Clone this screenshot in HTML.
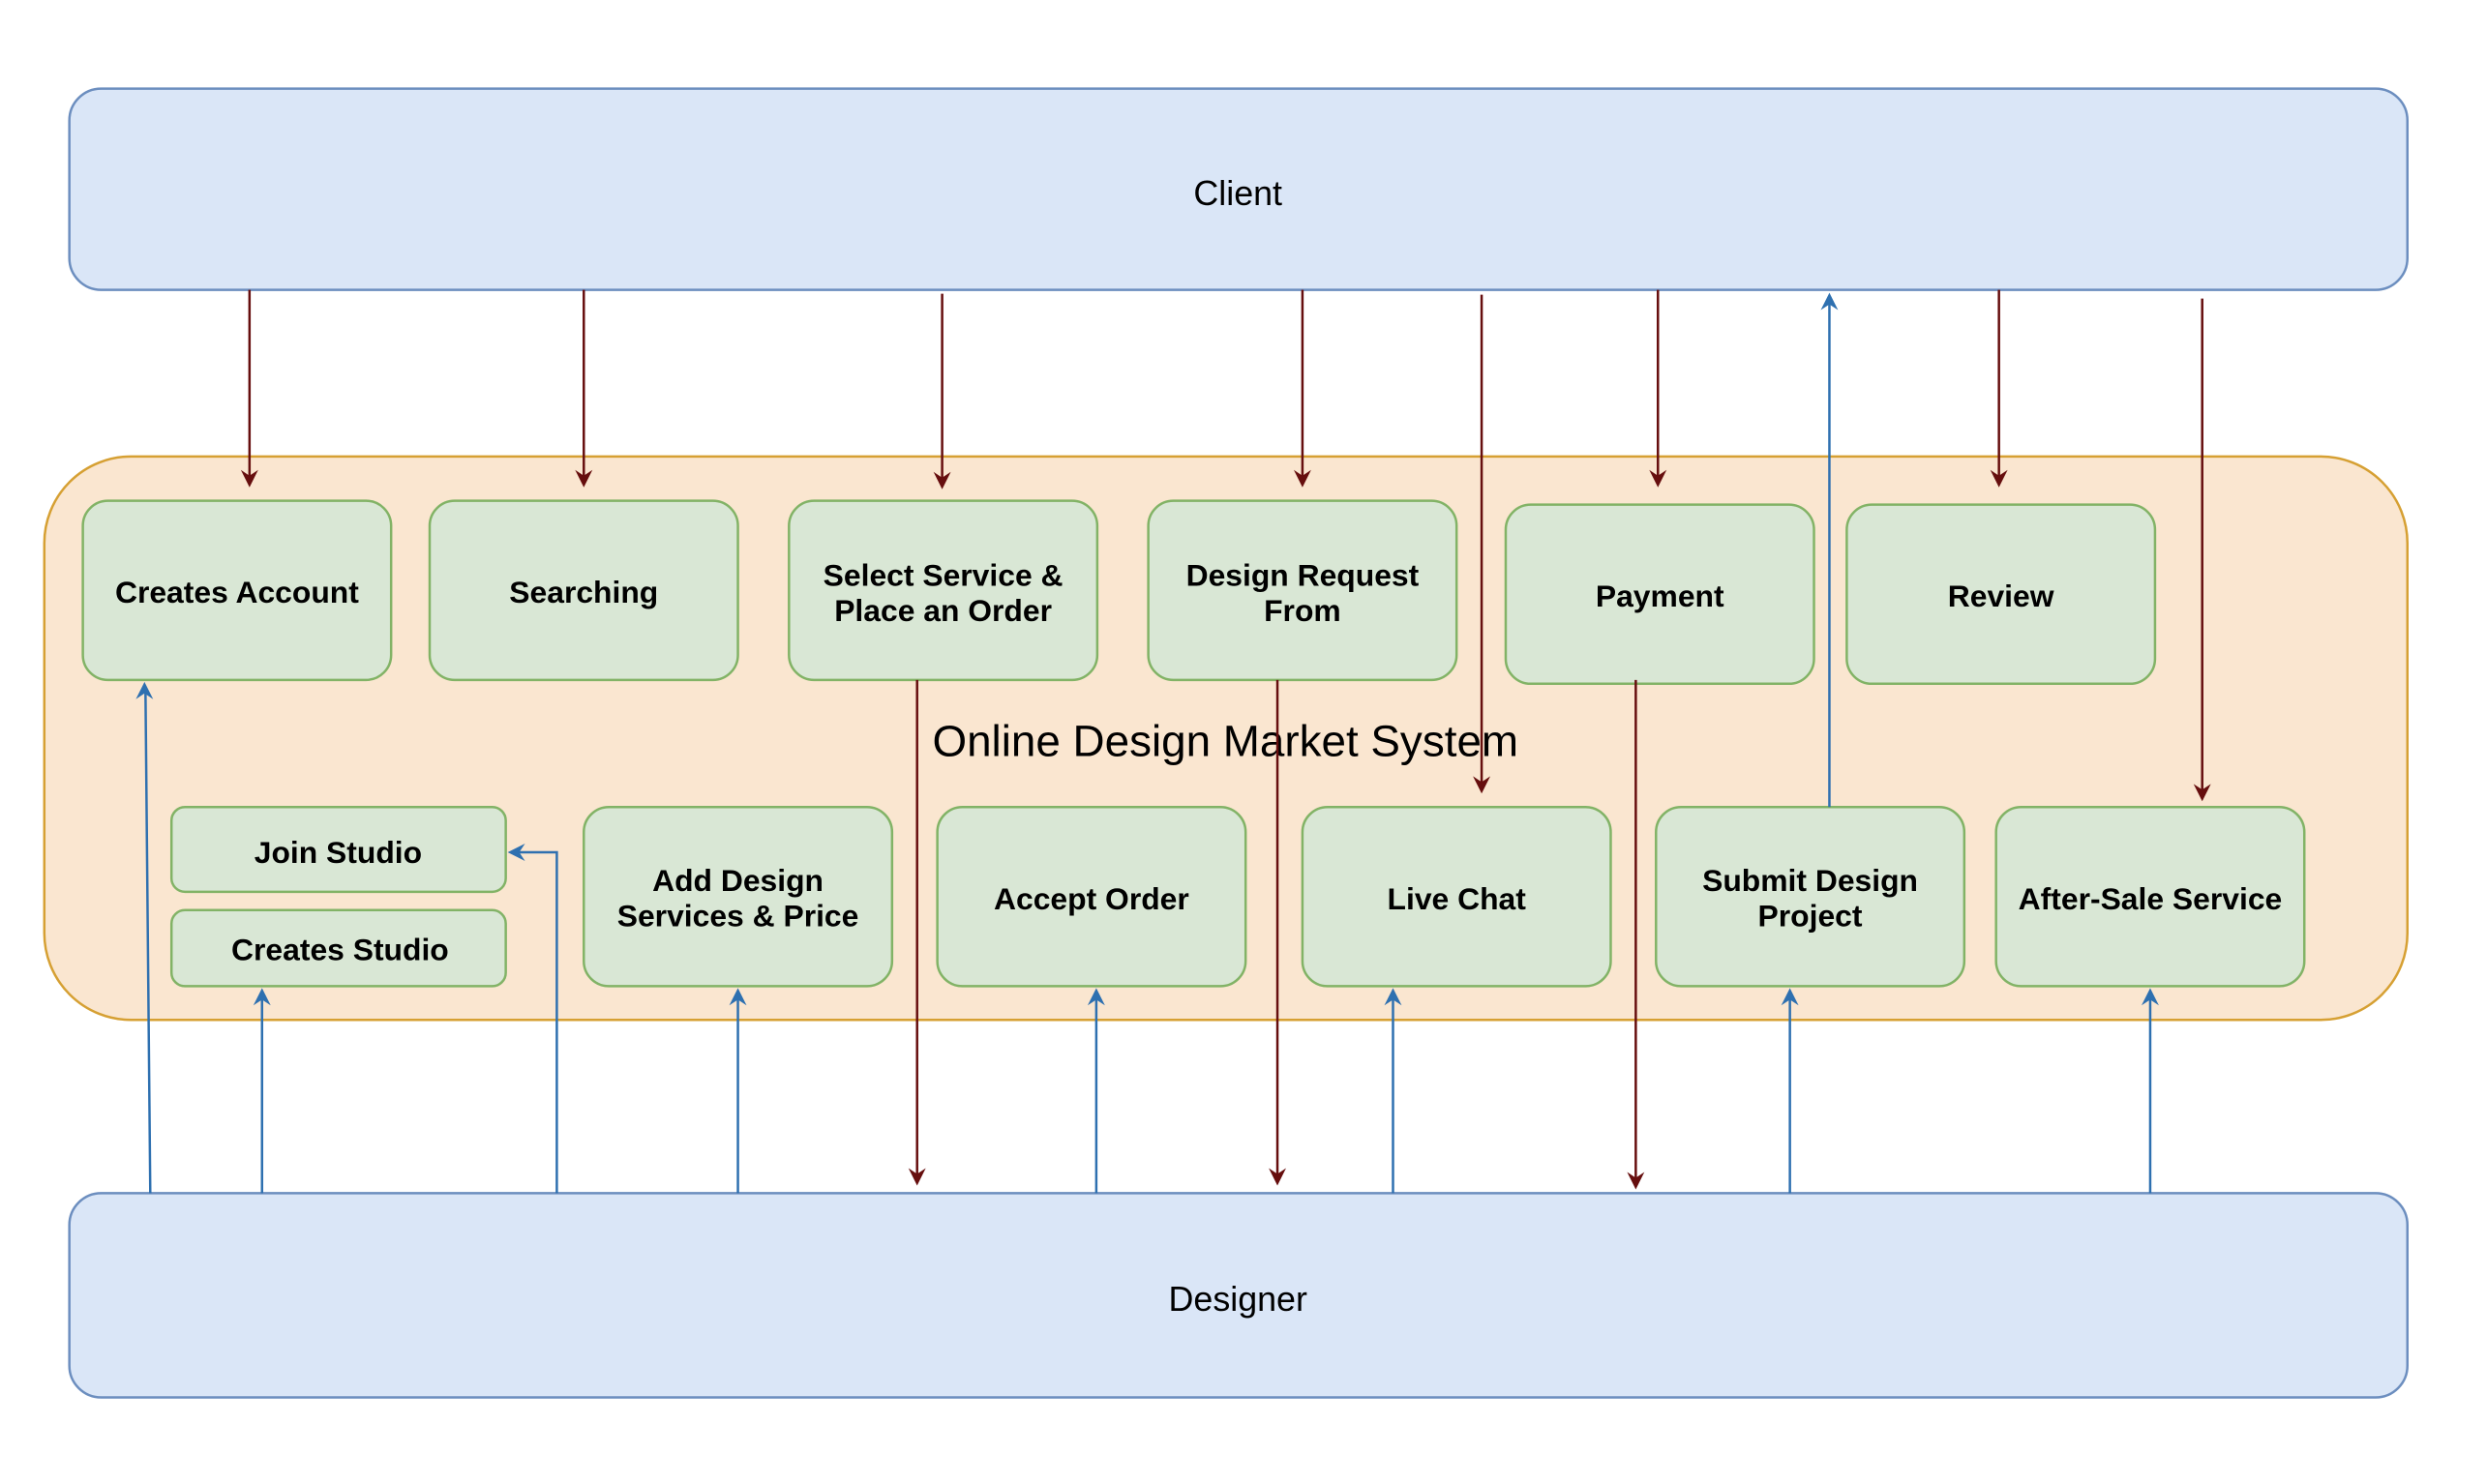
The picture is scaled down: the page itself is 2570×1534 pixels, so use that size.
<!DOCTYPE html>
<html><head><meta charset="utf-8"><style>
html,body{margin:0;padding:0;background:#fff;}
svg{display:block;}
.b{font-family:"Liberation Sans",Arial,sans-serif;font-weight:bold;font-size:32px;fill:#000;text-anchor:middle;}
.n{font-family:"Liberation Sans",Arial,sans-serif;font-size:36px;fill:#000;text-anchor:middle;}
</style></head><body>
<svg width="2570" height="1534" viewBox="0 0 2570 1534" xmlns="http://www.w3.org/2000/svg">
<g transform="scale(0.9955)">
<rect x="72" y="92" width="2427" height="209" rx="33" fill="#dae6f7" stroke="#6c8ebf" stroke-width="2.5"/>
<text class="n" x="1285" y="213">Client</text>
<rect x="72" y="1239" width="2427" height="212" rx="33" fill="#dae6f7" stroke="#6c8ebf" stroke-width="2.5"/>
<text class="n" x="1285" y="1361">Designer</text>
<rect x="46" y="474" width="2453" height="585" rx="90" fill="#fae6d0" stroke="#d6a033" stroke-width="2.5"/>
<text class="n" x="1272" y="785" style="font-size:46px">Online Design Market System</text>
<g fill="#d9e7d5" stroke="#82b366" stroke-width="2.5">
<rect x="86" y="520" width="320" height="186" rx="26"/>
<rect x="446" y="520" width="320" height="186" rx="26"/>
<rect x="819" y="520" width="320" height="186" rx="26"/>
<rect x="1192" y="520" width="320" height="186" rx="26"/>
<rect x="1563" y="524" width="320" height="186" rx="26"/>
<rect x="1917" y="524" width="320" height="186" rx="26"/>
<rect x="178" y="838" width="347" height="88" rx="14"/>
<rect x="178" y="945" width="347" height="79" rx="14"/>
<rect x="606" y="838" width="320" height="186" rx="26"/>
<rect x="973" y="838" width="320" height="186" rx="26"/>
<rect x="1352" y="838" width="320" height="186" rx="26"/>
<rect x="1719" y="838" width="320" height="186" rx="26"/>
<rect x="2072" y="838" width="320" height="186" rx="26"/>
</g>
<text class="b" x="246" y="626">Creates Account</text>
<text class="b" x="606" y="626">Searching</text>
<text class="b" x="979" y="608">Select Service &amp;</text>
<text class="b" x="979" y="645">Place an Order</text>
<text class="b" x="1352" y="608">Design Request</text>
<text class="b" x="1352" y="645">From</text>
<text class="b" x="1723" y="630">Payment</text>
<text class="b" x="2077" y="630">Review</text>
<text class="b" x="351" y="896">Join Studio</text>
<text class="b" x="353" y="997">Creates Studio</text>
<text class="b" x="766" y="925">Add Design</text>
<text class="b" x="766" y="962">Services &amp; Price</text>
<text class="b" x="1133" y="944">Accept Order</text>
<text class="b" x="1512" y="944">Live Chat</text>
<text class="b" x="1879" y="925">Submit Design</text>
<text class="b" x="1879" y="962">Project</text>
<text class="b" x="2232" y="944">After-Sale Service</text>

<g stroke="#660e0e" stroke-width="2.5" fill="none">
<path d="M259 301V500M606 301V500M978 305V502M1352 301V500M1538 306V818M1721 301V500M2075 301V500M2286 310V826M952 706V1225M1326 706V1225M1698 706V1229"/>
</g>
<g fill="#660e0e">
<path d="M250 488L259 506L268 488L259 494Z"/>
<path d="M597 488L606 506L615 488L606 494Z"/>
<path d="M969 490L978 508L987 490L978 496Z"/>
<path d="M1343 488L1352 506L1361 488L1352 494Z"/>
<path d="M1529 806L1538 824L1547 806L1538 812Z"/>
<path d="M1712 488L1721 506L1730 488L1721 494Z"/>
<path d="M2066 488L2075 506L2084 488L2075 494Z"/>
<path d="M2277 814L2286 832L2295 814L2286 820Z"/>
<path d="M943 1213L952 1231L961 1213L952 1219Z"/>
<path d="M1317 1213L1326 1231L1335 1213L1326 1219Z"/>
<path d="M1689 1217L1698 1235L1707 1217L1698 1223Z"/>
</g>
<g stroke="#2e70b0" stroke-width="2.5" fill="none">
<path d="M1899 838V312M156 1239L151 716M272 1239V1030M578 1239V885H532M766 1239V1030M1138 1239V1030M1446 1239V1030M1858 1239V1030M2232 1239V1030"/>
</g>
<g fill="#2e70b0">
<path d="M1890 322L1899 304L1908 322L1899 316Z"/>
<path d="M141 726L150 708L159 726L150 720Z"/>
<path d="M263 1044L272 1026L281 1044L272 1038Z"/>
<path d="M757 1044L766 1026L775 1044L766 1038Z"/>
<path d="M1129 1044L1138 1026L1147 1044L1138 1038Z"/>
<path d="M1437 1044L1446 1026L1455 1044L1446 1038Z"/>
<path d="M1849 1044L1858 1026L1867 1044L1858 1038Z"/>
<path d="M2223 1044L2232 1026L2241 1044L2232 1038Z"/>
<path d="M545 876L527 885L545 894L539 885Z"/>
</g>
</g>
</svg>
</body></html>
